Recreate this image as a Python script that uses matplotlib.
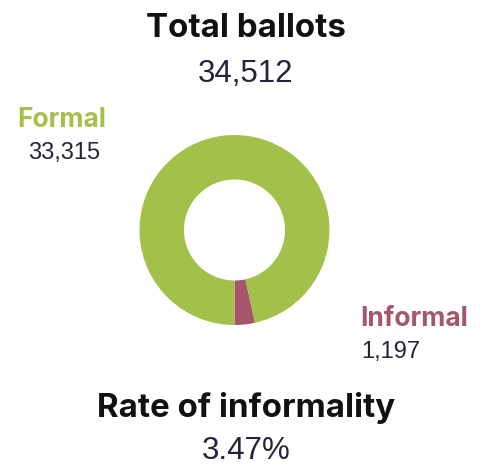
import matplotlib
matplotlib.use("Agg")
import matplotlib.pyplot as plt

# ballot counts
labels = ["Informal", "Formal"]
counts = [1197, 33315]
colors = ["#A5566A", "#A3C14A"]

total = sum(counts)
informal_rate = counts[0] / total * 100

W, H = 481, 466
fig = plt.figure(figsize=(W / 100, H / 100), dpi=100)
ax = fig.add_axes([0, 0, 1, 1])

# donut, informal slice starting at the bottom
ax.pie(counts, colors=colors, startangle=270, counterclock=True,
       center=(234.5, H - 230), radius=95, frame=True,
       wedgeprops=dict(width=44.5, linewidth=0))
ax.set_xlim(0, W)
ax.set_ylim(0, H)
ax.axis("off")

head_font = dict(family=["Inter", "DejaVu Sans"], fontweight="bold")
num_font = dict(family=["Liberation Sans", "DejaVu Sans"], color="#23233B")


def px(y):
    return H - y


ax.text(246, px(37), "Total ballots", ha="center", va="baseline",
        fontsize=23.8, color="#111111", **head_font)
ax.text(246, px(82), f"{total:,}", ha="center", va="baseline",
        fontsize=22.5, **num_font)

ax.text(62, px(127), labels[1], ha="center", va="baseline",
        fontsize=19, color=colors[1], **head_font)
ax.text(64, px(159), f"{counts[1]:,}", ha="center", va="baseline",
        fontsize=17, **num_font)

ax.text(360, px(326), labels[0], ha="left", va="baseline",
        fontsize=19, color=colors[0], **head_font)
ax.text(361, px(358), f"{counts[0]:,}", ha="left", va="baseline",
        fontsize=17, **num_font)

ax.text(246, px(417), "Rate of informality", ha="center", va="baseline",
        fontsize=23.8, color="#111111", **head_font)
ax.text(246, px(459), f"{informal_rate:.2f}%", ha="center", va="baseline",
        fontsize=22.5, **num_font)

fig.savefig("out.png", dpi=100)
